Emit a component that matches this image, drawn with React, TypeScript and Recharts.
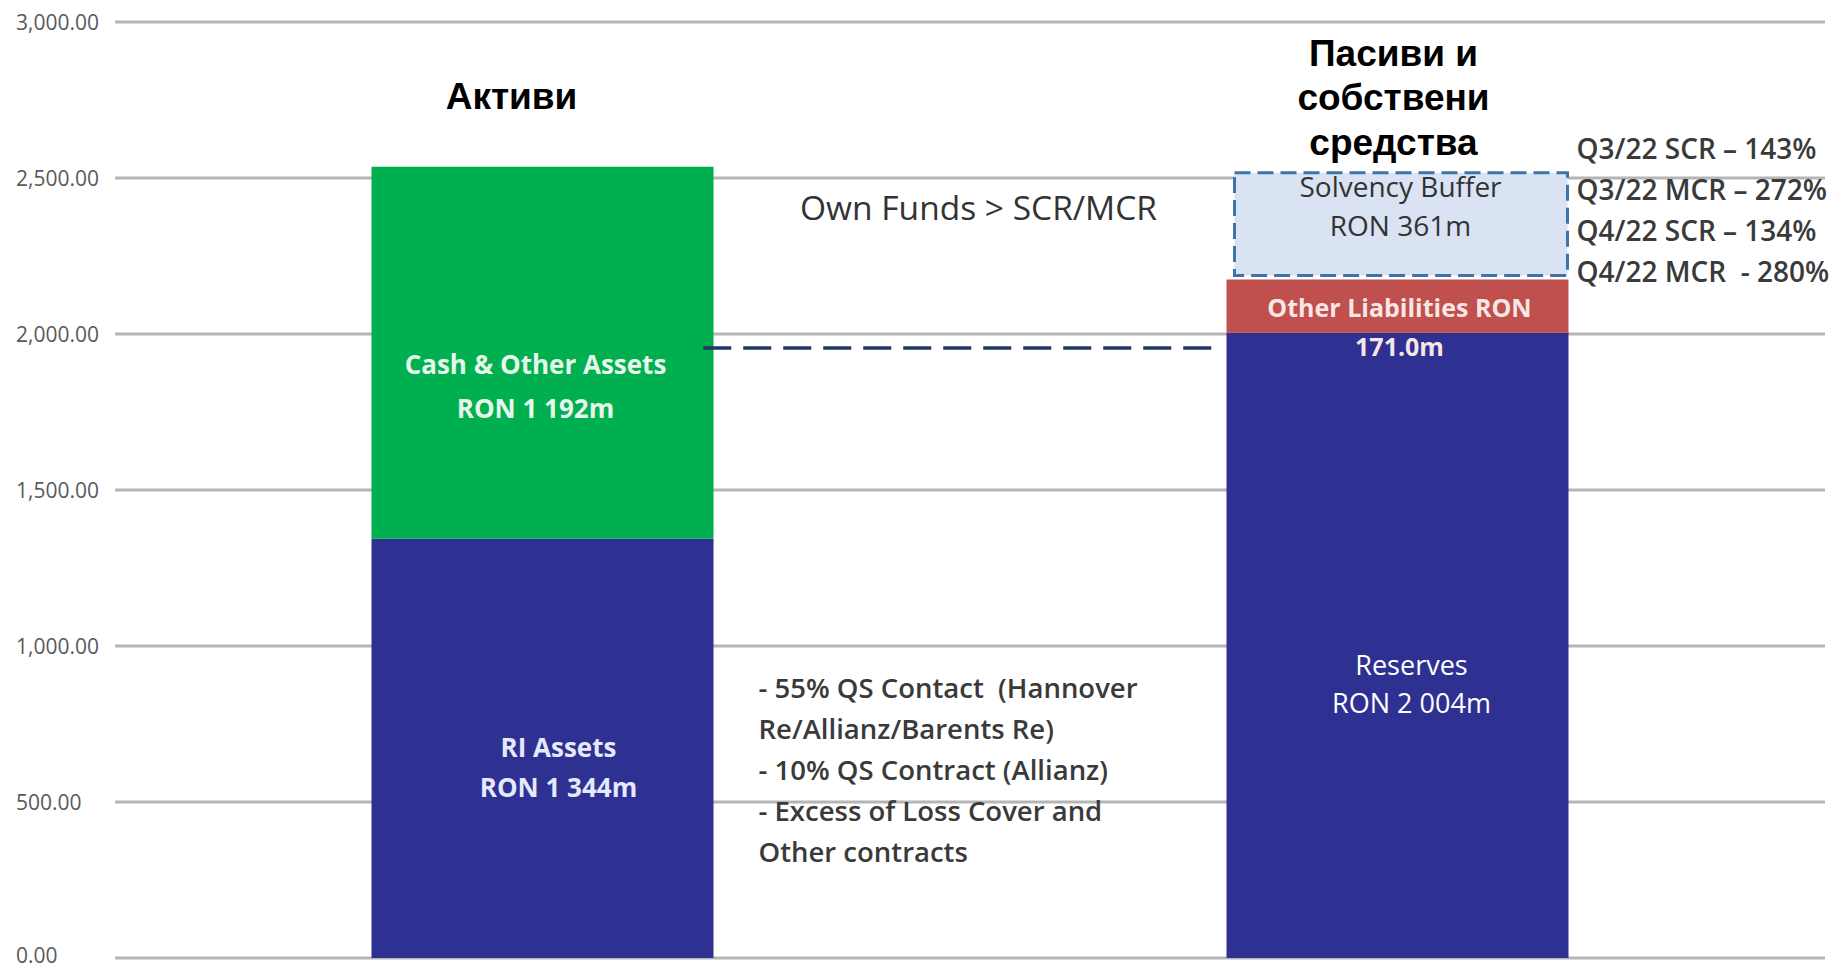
import React from 'react';
import { BarChart, Bar, XAxis, YAxis, CartesianGrid, ReferenceLine, LabelList } from 'recharts';

// Categories and title lines drawn above each column
const categories = ['Активи', 'Пасиви и собствени средства'];
const titleLines = [['Активи'], ['Пасиви и', 'собствени', 'средства']];

// Stack segments, RON m (null = segment not present in that column)
const riAssets = [1344, null];
const cashOther = [1192, null];
const reserves = [null, 2004];
const otherLiabilities = [null, 171];
const solvencyBuffer = [null, 361];

// Y axis ticks
const yTicks = [0, 500, 1000, 1500, 2000, 2500, 3000];

// Texts inside the segments
const riLabels = [['RI Assets', 'RON 1 344m'], null];
const cashLabels = [['Cash & Other Assets', 'RON 1 192m'], null];
const reserveLabels = [null, ['Reserves', 'RON 2 004m']];
const otherLabels = [null, ['Other Liabilities RON', '171.0m']];
const solvencyLabels = [null, ['Solvency Buffer', 'RON 361m']];

// Notes
const ownFundsNote = 'Own Funds > SCR/MCR';
const ownFundsLevel = 1955;
const ratioNotes = ['Q3/22 SCR – 143%', 'Q3/22 MCR – 272%', 'Q4/22 SCR – 134%', 'Q4/22 MCR  - 280%'];
const reinsuranceNotes = [
  '- 55% QS Contact  (Hannover',
  'Re/Allianz/Barents Re)',
  '- 10% QS Contract (Allianz)',
  '- Excess of Loss Cover and',
  'Other contracts',
];

const join = (l: string[] | null) => (l ? l.join('|') : null);

const data = categories.map((name, i) => ({
  name,
  riAssets: riAssets[i],
  cashOther: cashOther[i],
  reserves: reserves[i],
  otherLiabilities: otherLiabilities[i],
  solvencyBuffer: solvencyBuffer[i],
  riText: join(riLabels[i]),
  cashText: join(cashLabels[i]),
  reservesText: join(reserveLabels[i]),
  otherText: join(otherLabels[i]),
  solvencyText: join(solvencyLabels[i]),
}));

const SANS = '"Open Sans", sans-serif';

const fmt = (v: number) => v.toLocaleString('en-US', { minimumFractionDigits: 2, maximumFractionDigits: 2 });

const YTick = (props: any) => {
  const { x, y, payload } = props;
  return (
    <text
      x={x - 91}
      y={payload.value === 0 ? y - 3 : y}
      dominantBaseline="central"
      textAnchor="start"
      fill="#595959"
      fontSize={21}
      fontFamily={SANS}
    >
      {fmt(payload.value)}
    </text>
  );
};

const titleBlock = (lines: string[], cx: number, cy: number) => (
  <g>
    {lines.map((l, i) => (
      <text
        key={'t' + i}
        x={cx}
        y={cy + (i - (lines.length - 1) / 2) * 44.5}
        dominantBaseline="central"
        textAnchor="middle"
        fontFamily='"Liberation Sans", Arial, sans-serif'
        fontWeight="bold"
        fontSize={37}
        fill="#000"
      >
        {l}
      </text>
    ))}
  </g>
);

const segmentLabel = (
  opts: { dx: number; dy: number[]; color: string; size: number; weight: string | number },
  extra?: (p: any) => React.ReactNode
) => (p: any) => {
  const { x, y, width, value } = p;
  if (!value) return null;
  const lines = String(value).split('|');
  const cx = x + width / 2 + opts.dx;
  return (
    <g>
      {lines.map((l, i) => (
        <text
          key={i}
          x={cx}
          y={y + opts.dy[i]}
          textAnchor="middle"
          dominantBaseline="central"
          fill={opts.color}
          fontSize={opts.size}
          fontWeight={opts.weight}
          fontFamily={SANS}
        >
          {l}
        </text>
      ))}
      {extra ? extra(p) : null}
    </g>
  );
};

const reinsuranceBlock = (p: any) => (
  <g>
    {reinsuranceNotes.map((l, i) => (
      <text
        key={'r' + i}
        x={p.x + p.width + 45}
        y={p.y + 149 + i * 41}
        dominantBaseline="central"
        fill="#3a3a3a"
        fontSize={27.5}
        fontWeight={600}
        fontFamily={SANS}
        style={{ whiteSpace: 'pre' }}
      >
        {l}
      </text>
    ))}
  </g>
);

const leftTitle = (p: any) => titleBlock(titleLines[0], p.x + p.width / 2 - 31, p.y - 70);

const rightNotes = (p: any) => (
  <g>
    {titleBlock(titleLines[1], p.x + p.width / 2 - 4, p.y - 69)}
    {ratioNotes.map((l, i) => (
      <text
        key={'q' + i}
        x={p.x + p.width + 8}
        y={p.y - 19 + i * 41}
        dominantBaseline="central"
        fill="#3a3a3a"
        fontSize={28}
        fontWeight={600}
        fontFamily={SANS}
        style={{ whiteSpace: 'pre' }}
      >
        {l}
      </text>
    ))}
  </g>
);

const SolvencyShape = (p: any) => {
  const { x, y, width, height } = p;
  if (!height || height <= 0) return null;
  return (
    <rect
      x={x + 8}
      y={y + 6}
      width={width - 9}
      height={height - 10}
      fill="#dae3f3"
      stroke="#3f74a8"
      strokeWidth={3}
      strokeDasharray="16 7"
    />
  );
};

const OwnFundsLine = (p: any) => {
  const { x1, x2, y1 } = p;
  const w = x2 - x1;
  return (
    <g>
      <line x1={x1 + w * 0.344} x2={x1 + w * 0.645} y1={y1} y2={y1} stroke="#1f3864" strokeWidth={3.5} strokeDasharray="28 12" />
      <text x={x1 + w * 0.505} y={y1 - 141} textAnchor="middle" dominantBaseline="central" fill="#333333" fontSize={33.5} fontWeight={500} fontFamily={SANS}>
        {ownFundsNote}
      </text>
    </g>
  );
};

export default function App() {
  return (
    <div style={{ position: 'absolute', left: 0, top: 0, background: '#fff' }}>
      <BarChart
        width={1837}
        height={968}
        data={data}
        margin={{ top: 22, right: 12, left: 0, bottom: 10 }}
        barCategoryGap="30%"
      >
        <CartesianGrid vertical={false} stroke="#b5b5b5" strokeWidth={3} />
        <XAxis dataKey="name" hide />
        <YAxis domain={[0, 3000]} ticks={yTicks} width={115} axisLine={false} tickLine={false} tick={<YTick />} />
        <Bar dataKey="riAssets" stackId="s" fill="#2e3192" isAnimationActive={false}>
          <LabelList
            dataKey="riText"
            content={segmentLabel({ dx: 16, dy: [208, 248], color: '#e6e8fb', size: 26, weight: 'bold' }, reinsuranceBlock)}
          />
        </Bar>
        <Bar dataKey="cashOther" stackId="s" fill="#00b050" isAnimationActive={false}>
          <LabelList
            dataKey="cashText"
            content={segmentLabel({ dx: -7, dy: [197, 241], color: '#e8f7ec', size: 26, weight: 'bold' }, leftTitle)}
          />
        </Bar>
        <Bar dataKey="reserves" stackId="s" fill="#2e3192" isAnimationActive={false}>
          <LabelList
            dataKey="reservesText"
            content={segmentLabel({ dx: 14, dy: [332, 370], color: '#ffffff', size: 27, weight: 'normal' })}
          />
        </Bar>
        <Bar dataKey="otherLiabilities" stackId="s" fill="#c0504d" isAnimationActive={false}>
          <LabelList
            dataKey="otherText"
            content={segmentLabel({ dx: 2, dy: [28, 67], color: '#f8e6e6', size: 25, weight: 'bold' })}
          />
        </Bar>
        <Bar dataKey="solvencyBuffer" stackId="s" fill="#dae3f3" shape={<SolvencyShape />} isAnimationActive={false}>
          <LabelList
            dataKey="solvencyText"
            content={segmentLabel({ dx: 3, dy: [19, 58], color: '#333333', size: 28, weight: 500 }, rightNotes)}
          />
        </Bar>
        <ReferenceLine y={ownFundsLevel} stroke="none" shape={OwnFundsLine} />
      </BarChart>
    </div>
  );
}
